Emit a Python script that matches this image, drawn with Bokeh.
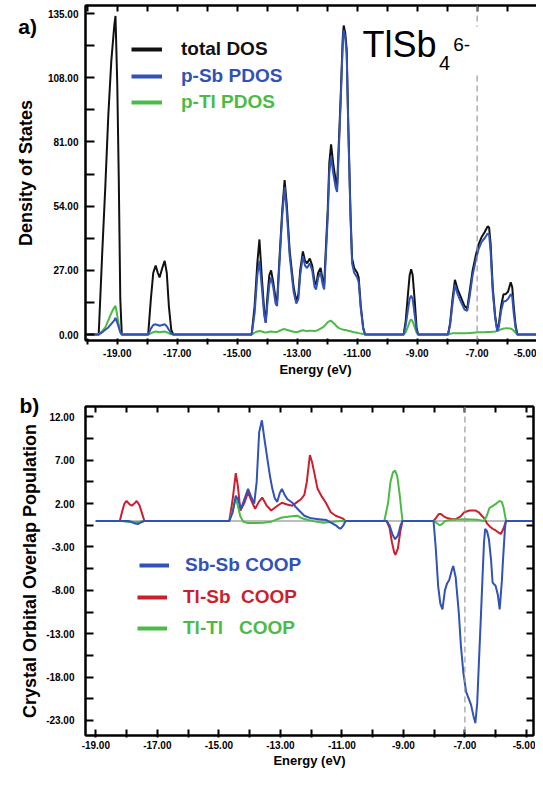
from bokeh.plotting import figure
from bokeh.models import (Range1d, LinearAxis, FixedTicker, PrintfTickFormatter, Span,
                          Label, Legend, LegendItem, BoxAnnotation, CustomLabelingPolicy)
from bokeh.core.properties import value
from bokeh.layouts import column
from bokeh.embed import file_html
from bokeh.resources import INLINE

# ---------------- data: panel a (DOS) ----------------
dos_energy = [
    -20.05, -19.62, -19.5, -19.4, -19.3, -19.2, -19.1, -19.06, -19.0, -18.95, -18.9, -18.85,
    -17.97, -17.88, -17.8, -17.72, -17.65, -17.59, -17.5, -17.42, -17.35, -17.28, -17.2, -17.13,
    -14.52, -14.42, -14.33, -14.26, -14.18, -14.1, -14.05, -14.0, -13.93, -13.87,
    -13.8, -13.72, -13.67, -13.6, -13.5, -13.42, -13.35, -13.25, -13.12, -13.03,
    -12.96, -12.9, -12.81, -12.74, -12.67, -12.58, -12.5, -12.42, -12.37, -12.3,
    -12.22, -12.15, -12.1, -12.03, -11.98, -11.93, -11.87, -11.8, -11.72, -11.67,
    -11.62, -11.55, -11.48, -11.45, -11.4, -11.35, -11.3, -11.22, -11.17, -11.1,
    -11.0, -10.95, -10.88, -10.8, -10.74,
    -9.45, -9.38, -9.3, -9.25, -9.2, -9.15, -9.08, -9.02, -8.97,
    -7.97, -7.9, -7.82, -7.74, -7.65, -7.55, -7.42, -7.33, -7.25, -7.15,
    -7.05, -6.95, -6.85, -6.75, -6.65, -6.6, -6.55, -6.48, -6.4, -6.33,
    -6.28, -6.2, -6.12, -6.05, -5.97, -5.88, -5.83, -5.78, -5.72, -5.66,
    -4.72,
]
total_dos = [
    0, 0, 35, 62, 92, 115, 130, 134, 105, 65, 15, 0,
    0, 15, 26, 29, 26, 24, 28, 31, 26, 12, 2, 0,
    0, 12, 30, 40, 24, 10, 5, 15, 25, 27,
    22, 15, 14, 30, 52, 65, 55, 35, 20, 14,
    17, 27, 35, 31, 30, 32, 29, 22, 21, 26,
    28, 23, 21, 40, 53, 72, 80, 72, 65, 62,
    78, 100, 125, 130, 127, 120, 90, 50, 32, 28,
    26, 24, 12, 3, 0,
    0, 6, 18, 25, 27.5, 25, 14, 3, 0,
    0, 5, 15, 23, 19, 16, 12, 11, 18, 27,
    33, 38, 41, 43, 45.5, 45, 38, 20, 8, 2,
    4, 12, 17, 17, 18, 22, 20, 12, 4, 0,
    0,
]
p_sb_pdos = [
    0, 0, 1, 2, 3, 4.5, 6, 7, 5, 3, 1, 0,
    0, 2.5, 4, 4.3, 4, 3.7, 4, 4.3, 3.5, 2, 0.5, 0,
    0, 9, 25, 31, 20, 8, 5, 12, 21, 24,
    20, 13, 12, 28, 50, 62, 52, 33, 18, 13,
    15, 25, 33, 29, 28, 30, 27, 20, 19, 24,
    26, 21, 19, 37, 50, 68, 75, 68, 62, 60,
    75, 98, 123, 128, 125, 118, 88, 48, 30, 26,
    24, 22, 11, 2.5, 0,
    0, 4, 11, 15, 16.3, 15, 8, 2, 0,
    0, 4, 13, 21, 17, 14, 10.5, 10, 16, 25,
    31, 36, 39, 40.5, 42.5, 42, 35, 18, 7, 1.5,
    3, 10, 14, 14, 15, 17, 16, 9, 3, 0,
    0,
]
p_tl_pdos = [
    0, 0, 1.5, 3, 6, 9, 11.5, 12, 8, 4, 1, 0,
    0, 0.5, 1, 1.3, 1.2, 1, 1.2, 1.3, 1, 0.5, 0.1, 0,
    0, 0.8, 1.3, 1.5, 1.3, 1.0, 0.9, 1.0, 1.2, 1.3,
    1.2, 1.1, 1.1, 1.5, 2.1, 2.3, 2.0, 1.6, 1.2, 1.1,
    1.2, 1.5, 1.8, 1.6, 1.5, 1.6, 1.6, 1.5, 1.6, 2.0,
    2.5, 3.0, 3.5, 4.5, 5.2, 5.6, 5.8, 5.0, 4.0, 3.3,
    2.8, 2.4, 2.1, 2.0, 1.9, 1.8, 1.6, 1.4, 1.2, 1.0,
    0.8, 0.6, 0.4, 0.2, 0,
    0, 1, 3.5, 5.5, 6.4, 5.5, 3, 0.8, 0,
    0, 0.3, 0.5, 0.6, 0.6, 0.6, 0.6, 0.6, 0.7, 0.8,
    0.9, 1.0, 1.0, 1.0, 1.1, 1.1, 1.1, 1.2, 1.3, 1.5,
    1.8, 2.2, 2.5, 2.6, 2.6, 2.5, 2.2, 1.6, 0.8, 0,
    0,
]

# ---------------- data: panel b (COOP) ----------------
sbsb_energy = [-19.0, -17.95, -17.85, -17.72, -17.62, -17.52, -17.42,
               -14.66, -14.55, -14.45, -14.38, -14.28, -14.18, -14.05, -13.95, -13.85, -13.77,
               -13.69, -13.6, -13.52, -13.42, -13.33, -13.26, -13.18, -13.1, -13.02, -12.95,
               -12.86, -12.77, -12.61, -12.5, -12.39, -12.22, -12.0, -11.75, -11.5, -11.3,
               -11.2, -11.1, -11.04, -10.95, -10.88,
               -9.55, -9.45, -9.35, -9.27, -9.18, -9.1, -9.03,
               -8.02, -7.95, -7.87, -7.8, -7.73, -7.65, -7.58, -7.51, -7.42, -7.38,
               -7.3, -7.2, -7.13, -7.05, -6.96, -6.8, -6.72, -6.66, -6.6, -6.54,
               -6.48, -6.43, -6.38, -6.34, -6.28, -6.22, -6.15, -6.1, -6.0, -5.93,
               -5.87, -5.8, -5.76, -5.7, -5.67, -4.77]
sbsb_coop = [0, 0, -0.1, -0.3, -0.35, -0.15, 0,
             0, 1.0, 2.9, 2.5, 1.4, 2.4, 3.7, 2.8, 2.0, 4.5,
             10.2, 11.6, 9.5, 7.1, 5.0, 3.7, 2.6, 2.2, 3.2, 3.7,
             3.0, 2.5, 2.1, 1.6, 1.2, 0.6, 0.3, 0.2, 0.1, -0.3,
             -0.5, -0.8, -0.9, -0.5, 0,
             0, -0.5, -1.6, -2.1, -1.7, -0.6, 0,
             0, -3.0, -7.5, -9.5, -10.2, -8.0, -7.2, -6.8, -5.6, -5.2,
             -6.5, -10.5, -14.4, -17.5, -19.7, -21.2, -22.5, -23.3, -21.0, -15.9,
             -11.0, -6.7, -2.5, -0.9, -1.2, -2.1, -4.5, -7.1, -7.5, -8.5,
             -10.2, -7.0, -4.4, -1.0, 0, 0]

tlsb_energy = [-19.0, -18.22, -18.15, -18.07, -18.0, -17.9, -17.83, -17.75, -17.67, -17.58, -17.5, -17.42,
               -14.66, -14.55, -14.45, -14.38, -14.3, -14.18, -14.05, -13.95, -13.82, -13.7,
               -13.59, -13.45, -13.3, -13.15, -12.95, -12.78, -12.61, -12.45, -12.33, -12.22,
               -12.14, -12.04, -11.97, -11.9, -11.79, -11.65, -11.52, -11.36, -11.2, -10.98, -10.88,
               -9.55, -9.45, -9.37, -9.3, -9.26, -9.18, -9.1, -9.03,
               -8.02, -7.95, -7.85, -7.78, -7.68, -7.55, -7.42, -7.3, -7.15, -7.02,
               -6.85, -6.65, -6.55, -6.45, -6.37, -6.28, -6.2, -6.1, -6.0, -5.88,
               -5.83, -5.75, -5.68, -5.64, -4.77]
tlsb_coop = [0, 0, 1.0, 2.0, 2.3, 1.9, 1.75, 2.0, 2.3, 1.8, 0.9, 0,
             0, 2.5, 5.5, 4.0, 1.2, 2.0, 3.3, 2.4, 1.4, 2.2,
             2.7, 1.8, 1.2, 1.6, 2.1, 1.9, 1.75, 2.2, 2.5, 3.0,
             4.5, 7.6, 6.8, 5.6, 3.7, 2.8, 2.1, 1.0, 0.6, 0.3, 0,
             0, -0.8, -2.5, -3.6, -3.9, -3.2, -1.2, 0,
             0, 0.3, 0.8, 0.8, 0.5, 0.3, 0.2, 0.2, 0.5, 1.0,
             1.2, 1.2, 1.0, 0.6, 0.3, -0.3, -0.6, -0.9, -1.1, -1.4,
             -1.5, -0.9, -0.2, 0, 0]

tltl_energy = [-19.0, -18.15, -18.0, -17.75, -17.55, -17.42,
               -14.66, -14.55, -14.45, -14.4, -14.3, -14.2, -14.05, -13.8, -13.55, -13.3,
               -13.1, -12.95, -12.7, -12.45, -12.3, -12.1, -11.9, -11.6, -11.3, -11.05, -10.88,
               -9.62, -9.5, -9.42, -9.34, -9.27, -9.2, -9.12, -9.06, -9.03,
               -8.0, -7.9, -7.82, -7.72, -7.65, -7.4, -7.0, -6.6, -6.38, -6.3,
               -6.2, -6.1, -5.98, -5.88, -5.8, -5.74, -5.69, -5.66, -4.77]
tltl_coop = [0, 0, -0.1, -0.15, -0.1, 0,
             0, 1.2, 2.6, 2.0, 0.5, -0.1, -0.25, -0.25, -0.2, -0.1,
             0.2, 0.4, 0.5, 0.6, 0.3, 0.1, -0.05, -0.2, -0.1, 0.0, 0,
             0, 2.0, 4.5, 5.6, 5.8, 5.2, 3.0, 1.0, 0,
             0, -0.3, -0.5, -0.3, 0, 0.15, 0.2, 0.15, 0, 0.5,
             1.5, 1.7, 2.0, 2.3, 2.2, 1.5, 0.5, 0, 0]

zero_energy = [-19.0, -4.77]
zero_level = [0, 0]

# ---------------- ticks ----------------
dos_ticks = [0, 27, 54, 81, 108, 135]
dos_minor = [13.5, 40.5, 67.5, 94.5, 121.5]
coop_ticks = [-23, -18, -13, -8, -3, 2, 7, 12]
coop_minor = [-20.5, -15.5, -10.5, -5.5, -0.5, 4.5, 9.5]
energy_ticks = [-19, -17, -15, -13, -11, -9, -7, -5]
energy_minor = [-20, -18, -16, -14, -12, -10, -8, -6]
energy_all = list(range(-20, -4))
fermi_level = -7.0

for a, b in [(dos_energy, total_dos), (dos_energy, p_sb_pdos), (dos_energy, p_tl_pdos),
             (sbsb_energy, sbsb_coop), (tlsb_energy, tlsb_coop), (tltl_energy, tltl_coop)]:
    if len(a) != len(b):
        raise SystemExit(f"length mismatch {len(a)} vs {len(b)}")

FONT = "Liberation Sans"
BLACK = "#111111"
BLUE = "#3152b7"
GREEN = "#4cba46"
RED = "#cc1f2e"
NAN = float("nan")

no_labels = CustomLabelingPolicy(code="for (const i of indices) { indices.unset(i) } return indices")


def style_axis(ax, tick_in, tick_out, labels=True, size="10px"):
    ax.axis_line_color = "black"
    ax.axis_line_width = 2
    ax.major_tick_line_color = "black"
    ax.minor_tick_line_color = "black"
    ax.major_tick_line_width = 2
    ax.minor_tick_line_width = 2
    ax.major_tick_in = tick_in
    ax.major_tick_out = tick_out
    ax.minor_tick_in = tick_in
    ax.minor_tick_out = tick_out
    if labels:
        ax.major_label_text_font = FONT
        ax.major_label_text_font_style = "bold"
        ax.major_label_text_font_size = size
        ax.major_label_text_color = "black"
        ax.axis_label_text_font = FONT
        ax.axis_label_text_font_style = "bold"
        ax.axis_label_text_color = "black"
    else:
        ax.major_label_policy = no_labels
        ax.major_label_text_font_size = "0px"
        ax.major_label_standoff = 0


def make_legend(p, renderer, text, color, vx, vy, gw, standoff):
    leg = Legend(items=[LegendItem(label=text, renderers=[renderer])], location=(vx, vy),
                 border_line_color=None, background_fill_alpha=0, padding=0, margin=0,
                 spacing=0, glyph_width=gw, glyph_height=22, label_height=22,
                 label_standoff=standoff, label_text_font=FONT, label_text_font_style="bold",
                 label_text_font_size="19px", label_text_color=color)
    p.add_layout(leg)


# ================= panel a =================
p1 = figure(frame_width=460, frame_height=335, min_border_left=72, min_border_right=3,
            min_border_top=5, min_border_bottom=43,
            x_range=Range1d(-20.06, -4.72), y_range=Range1d(-2.5, 138.4),
            x_axis_type=None, y_axis_type=None, output_backend="svg", toolbar_location=None)
p1.outline_line_color = "black"
p1.outline_line_width = 2
p1.background_fill_color = "white"

ax = LinearAxis(ticker=FixedTicker(ticks=dos_ticks, minor_ticks=dos_minor),
                formatter=PrintfTickFormatter(format="%.2f"), axis_label="Density of States")
style_axis(ax, 9, 0)
ax.major_label_standoff = 7
ax.axis_label_standoff = 9
ax.axis_label_text_font_size = "18px"
p1.add_layout(ax, "left")

bx = LinearAxis(ticker=FixedTicker(ticks=energy_ticks, minor_ticks=energy_minor),
                formatter=PrintfTickFormatter(format="%.2f"), axis_label="Energy (eV)")
style_axis(bx, 2, 4)
bx.major_label_standoff = 4
bx.axis_label_standoff = 2
bx.axis_label_text_font_size = "13px"
p1.add_layout(bx, "below")

rx = LinearAxis(ticker=FixedTicker(ticks=dos_ticks, minor_ticks=dos_minor))
style_axis(rx, 8, 0, labels=False)
p1.add_layout(rx, "right")
tx = LinearAxis(ticker=FixedTicker(ticks=energy_all))
style_axis(tx, 6, 0, labels=False)
p1.add_layout(tx, "above")

p1.add_layout(Span(location=fermi_level, dimension="height", line_color="#9a9a9a",
                   line_width=1.2, line_dash="6 4"))
p1.add_layout(BoxAnnotation(left=-7.3, right=-6.7, bottom=109.5, top=129.5,
                            fill_color="white", fill_alpha=1, line_alpha=0))

r_tot = p1.line(dos_energy, total_dos, line_color=BLACK, line_width=2)
r_tl = p1.line(dos_energy, p_tl_pdos, line_color=GREEN, line_width=2)
r_sb = p1.line(dos_energy, p_sb_pdos, line_color=BLUE, line_width=2)

lg_tot = p1.line([NAN], [NAN], line_color=BLACK, line_width=4)
lg_sb = p1.line([NAN], [NAN], line_color=BLUE, line_width=4)
lg_tl = p1.line([NAN], [NAN], line_color=GREEN, line_width=4)
make_legend(p1, lg_tot, "total DOS", BLACK, 57, 280, 31, 19)
make_legend(p1, lg_sb, "p-Sb PDOS", BLUE, 57, 253, 31, 19)
make_legend(p1, lg_tl, "p-Tl PDOS", GREEN, 57, 227, 31, 19)

# panel letter: text glyph on the overlay level so that it is drawn outside the frame
p1.text(x=[-22.3], y=[129.5], text=["a)"], text_font=value(FONT), text_font_style="bold",
        text_font_size="21px", text_color="black", text_baseline="alphabetic",
        text_align="left", level="overlay")
p1.add_layout(Label(x=-10.82, y=113.5, text="TlSb", text_font=FONT,
                    text_font_size="36px", text_color="black"))
p1.add_layout(Label(x=-8.27, y=111.2, text="4", text_font=FONT,
                    text_font_size="20px", text_color="black"))
p1.add_layout(Label(x=-7.8, y=119.4, text="6-", text_font=FONT,
                    text_font_size="19px", text_color="black"))

# ================= panel b =================
p2 = figure(frame_width=448, frame_height=329, min_border_left=85, min_border_right=2,
            min_border_top=23, min_border_bottom=34,
            x_range=Range1d(-19.335, -4.77), y_range=Range1d(-24.73, 13.19),
            x_axis_type=None, y_axis_type=None, output_backend="svg", toolbar_location=None)
p2.outline_line_color = "black"
p2.outline_line_width = 2

ay = LinearAxis(ticker=FixedTicker(ticks=coop_ticks, minor_ticks=coop_minor),
                formatter=PrintfTickFormatter(format="%.2f"),
                axis_label="Crystal Orbital Overlap Population")
style_axis(ay, 8, 0)
ay.major_label_standoff = 11
ay.axis_label_standoff = 3
ay.axis_label_text_font_size = "18px"
p2.add_layout(ay, "left")

by = LinearAxis(ticker=FixedTicker(ticks=energy_ticks, minor_ticks=energy_minor),
                formatter=PrintfTickFormatter(format="%.2f"), axis_label="Energy (eV)")
style_axis(by, 6, 2)
by.major_label_standoff = 3
by.axis_label_standoff = 1
by.axis_label_text_font_size = "13px"
p2.add_layout(by, "below")

ry = LinearAxis(ticker=FixedTicker(ticks=coop_ticks, minor_ticks=coop_minor))
style_axis(ry, 7, 0, labels=False)
p2.add_layout(ry, "right")
ty = LinearAxis(ticker=FixedTicker(ticks=energy_all))
style_axis(ty, 6, 0, labels=False)
p2.add_layout(ty, "above")

p2.add_layout(Span(location=fermi_level, dimension="height", line_color="#9a9a9a",
                   line_width=1.2, line_dash="6 4"))

p2.line(zero_energy, zero_level, line_color="#bdbdbd", line_width=2)
r_red = p2.line(tlsb_energy, tlsb_coop, line_color=RED, line_width=2)
r_green = p2.line(tltl_energy, tltl_coop, line_color=GREEN, line_width=2)
r_blue = p2.line(sbsb_energy, sbsb_coop, line_color=BLUE, line_width=2)

lb_blue = p2.line([NAN], [NAN], line_color=BLUE, line_width=4)
lb_red = p2.line([NAN], [NAN], line_color=RED, line_width=4)
lb_green = p2.line([NAN], [NAN], line_color=GREEN, line_width=4)
make_legend(p2, lb_blue, "Sb-Sb\u00a0COOP", BLUE, 54, 159, 30, 16)
make_legend(p2, lb_red, "Tl-Sb\u00a0\u00a0COOP", RED, 52, 127, 30, 16)
make_legend(p2, lb_green, "Tl-Tl\u00a0\u00a0\u00a0COOP", GREEN, 52, 96, 30, 16)

p2.text(x=[-21.48], y=[13.3], text=["b)"], text_font=value(FONT), text_font_style="bold",
        text_font_size="21px", text_color="black", text_baseline="alphabetic",
        text_align="left", level="overlay")

layout = column(p1, p2, spacing=0)
open("out.html", "w").write(file_html(layout, INLINE))
